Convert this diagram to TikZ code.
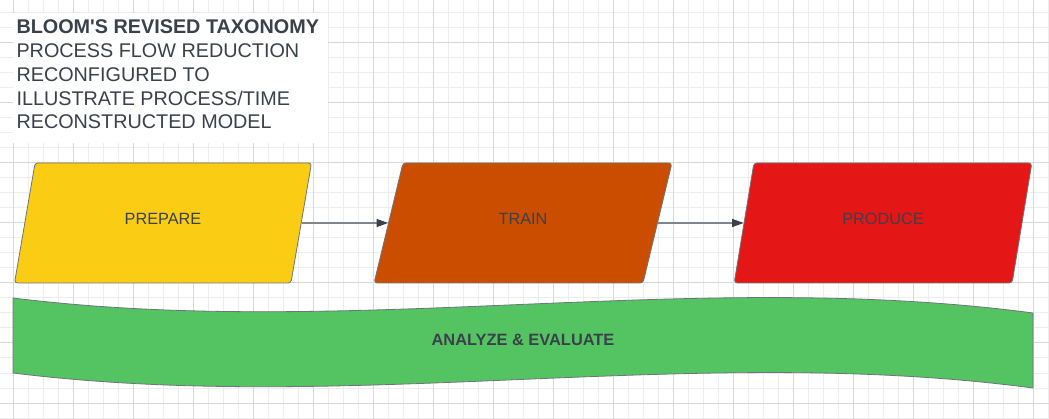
\documentclass[tikz,border=0pt]{standalone}
\usepackage{fontspec}
\setmainfont{Liberation Sans}
\usetikzlibrary{arrows.meta,shapes.geometric}
\definecolor{BloomInk}{HTML}{3A414A}
\definecolor{BloomRule}{HTML}{6E747B}
\definecolor{BloomArrow}{HTML}{80868E}
\definecolor{BloomYellow}{HTML}{FACD14}
\definecolor{BloomOrange}{HTML}{CB4E00}
\definecolor{BloomRed}{HTML}{E51616}
\definecolor{BloomGreen}{HTML}{54C462}
\definecolor{GridMinor}{HTML}{EDEDED}
\definecolor{GridMajor}{HTML}{D8D8D8}
\newcommand{\straightquote}{\XeTeXglyph\XeTeXcharglyph"27\relax}
\tikzset{
  bloom/stage/.style={
    trapezium, trapezium left angle=75.5, trapezium right angle=104.5,
    trapezium stretches=true, minimum width=298, minimum height=120,
    draw=BloomRule, line width=.8pt, rounded corners=3pt,
    text=BloomInk, font=\fontsize{16.3}{19}\selectfont, text depth=8pt
  },
  bloom/flow/.style={
    -{Triangle[length=11.5pt,width=8pt,fill=BloomInk,color=BloomInk]},
    line width=1.2pt, draw=BloomArrow
  },
  bloom/band/.style={fill=BloomGreen, draw=BloomRule, line width=.8pt},
  bloom/title/.style={
    anchor=north west, inner sep=0pt, align=left, text=BloomInk,
    font=\fontsize{19.8}{23.75}\selectfont
  },
  bloom/gridminor/.style={draw=GridMinor, line width=1pt},
  bloom/gridmajor/.style={draw=GridMajor, line width=1pt}
}
\begin{document}
\begin{tikzpicture}[x=1pt,y=-1pt]
  \useasboundingbox (0,0) rectangle (1049,419);
  \fill[white] (0,0) rectangle (1049,419);
  % grid
  \foreach \gx in {13,28,...,1048}
    \draw[bloom/gridminor] (\gx,0) -- (\gx,419);
  \foreach \gy in {13,28,...,418}
    \draw[bloom/gridminor] (0,\gy) -- (1049,\gy);
  \foreach \gx in {13,73,...,1033}
    \draw[bloom/gridmajor] (\gx,0) -- (\gx,419);
  \foreach \gy in {43,103,...,403}
    \draw[bloom/gridmajor] (0,\gy) -- (1049,\gy);
  % title
  \fill[white] (13,13) rectangle (328,143);
  \node[bloom/title] (ttl) at (16.3,19.9)
    {\textbf{BLOOM\straightquote S REVISED TAXONOMY}\\PROCESS FLOW REDUCTION\\
     RECONFIGURED TO\\ILLUSTRATE PROCESS/TIME\\RECONSTRUCTED MODEL};
  % stages
  \node[bloom/stage,fill=BloomYellow] (prep) at (163,223) {PREPARE};
  \node[bloom/stage,fill=BloomOrange] (train) at (523,223) {TRAIN};
  \node[bloom/stage,fill=BloomRed] (prod) at (883,223) {PRODUCE};
  \draw[bloom/flow] (prep.right side) -- (train.left side);
  \draw[bloom/flow] (train.right side) -- (prod.left side);
  % band
  \path[bloom/band] (13,298) .. controls (353,340) and (693,268) .. (1033,313)
    -- (1033,388) .. controls (693,343) and (353,415) .. (13,373) -- cycle;
  \node[text=BloomInk,font=\fontsize{16.4}{19}\selectfont\bfseries] (anlz)
    at (523,340) {ANALYZE \& EVALUATE};
\end{tikzpicture}
\end{document}
